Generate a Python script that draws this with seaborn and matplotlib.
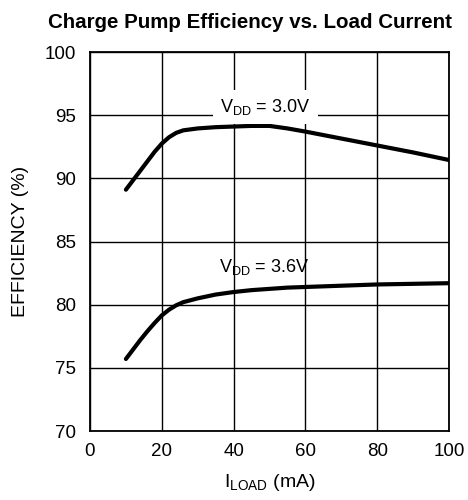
import pandas as pd
import numpy as np
import seaborn as sns
import matplotlib
matplotlib.use("Agg")
import matplotlib.pyplot as plt

# values
load_ma = [10, 12, 14, 16, 18, 20, 22, 24, 26, 30, 35, 40, 45, 50, 55, 60, 70, 80, 90, 100]
eff_30 = [89.1, 89.85, 90.6, 91.35, 92.1, 92.75, 93.25, 93.6, 93.8, 93.95, 94.05, 94.1, 94.15, 94.15, 93.95, 93.7, 93.15, 92.6, 92.05, 91.45]
eff_36 = [75.7, 76.45, 77.2, 77.9, 78.55, 79.15, 79.6, 79.95, 80.2, 80.5, 80.8, 81.0, 81.15, 81.25, 81.35, 81.4, 81.5, 81.6, 81.65, 81.7]

x_ticks = [0, 20, 40, 60, 80, 100]
y_ticks = [70, 75, 80, 85, 90, 95, 100]

sns.set_style("white")
plt.rcParams['font.family'] = ['Liberation Sans', 'DejaVu Sans']
plt.rcParams['mathtext.fontset'] = 'custom'
plt.rcParams['mathtext.rm'] = 'Liberation Sans'
plt.rcParams['mathtext.it'] = 'Liberation Sans'
plt.rcParams['text.color'] = 'black'
plt.rcParams['axes.labelcolor'] = 'black'
plt.rcParams['xtick.color'] = 'black'
plt.rcParams['ytick.color'] = 'black'

df = pd.DataFrame({
    'load': load_ma * 2,
    'eff': eff_30 + eff_36,
    'vdd': ['3.0V'] * len(load_ma) + ['3.6V'] * len(load_ma),
})

fig = plt.figure(figsize=(4.68, 5.0), dpi=100)
ax = fig.add_axes([0.1923, 0.138, 0.7671, 0.758])

ax.set_xlim(0, 100)
ax.set_ylim(70, 100)
ax.set_xticks(x_ticks)
ax.set_yticks(y_ticks)
ax.grid(True, color='black', linewidth=1.0)
ax.set_axisbelow(True)
for s in ax.spines.values():
    s.set_color('black')
    s.set_linewidth(1.3)

sns.lineplot(data=df, x='load', y='eff', units='vdd', estimator=None,
             color='black', linewidth=3.0, ax=ax, zorder=3)

ax.text(48.8, 95.65, r'$\mathregular{V_{DD}}$ = 3.0V', ha='center', va='center',
        fontsize=13, zorder=4,
        bbox=dict(facecolor='white', edgecolor='none', boxstyle='square,pad=0.4'))
ax.text(48.5, 83.0, r'$\mathregular{V_{DD}}$ = 3.6V', ha='center', va='center',
        fontsize=13, zorder=4)

ax.tick_params(axis='both', labelsize=13.5, length=0, colors='black')
ax.tick_params(axis='y', pad=10)
ax.tick_params(axis='x', pad=9)
ax.set_xlabel(r'$\mathregular{I_{LOAD}}$ (mA)', fontsize=14, labelpad=8)
ax.set_ylabel('EFFICIENCY (%)', fontsize=14, labelpad=11)
fig.suptitle('Charge Pump Efficiency vs. Load Current', fontsize=14.8,
             fontweight='bold', x=0.535, y=0.975)

plt.savefig('out.png', dpi=100)
